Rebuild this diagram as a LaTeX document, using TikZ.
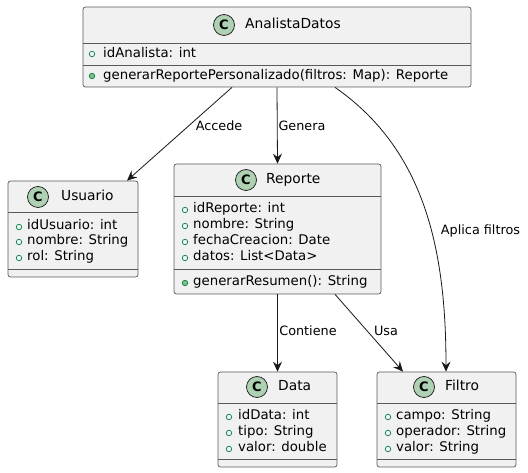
\documentclass[tikz,border=0pt]{standalone}
\usepackage{fontspec}
\setmainfont{DejaVu Sans}
\usetikzlibrary{arrows.meta}
\definecolor{boxfill}{HTML}{F1F1F1}
\definecolor{boxline}{HTML}{5A5A5A}
\definecolor{linecol}{HTML}{181818}
\definecolor{cfill}{HTML}{ADD1B2}
\definecolor{visline}{HTML}{038048}
\definecolor{visfill}{HTML}{84BE84}
\tikzset{
  classbox/.style={draw=boxline, fill=boxfill, rounded corners=2.5pt, line width=0.7pt, inner sep=0pt},
  sepline/.style={draw=boxline, line width=0.7pt},
  cmark/.style={circle, draw=linecol, fill=cfill, line width=0.7pt, minimum size=21pt, inner sep=0pt, font=\fontsize{13}{13}\selectfont\bfseries},
  cname/.style={anchor=west, inner sep=0pt, text height=10pt, text depth=3pt, font=\fontsize{13.8}{16}\selectfont},
  member/.style={anchor=west, inner sep=0pt, text height=10pt, text depth=3pt, font=\fontsize{13.3}{16}\selectfont},
  attrmark/.style={circle, draw=visline, line width=0.7pt, minimum size=5.5pt, inner sep=0pt},
  methmark/.style={circle, draw=visline, fill=visfill, line width=0.7pt, minimum size=5.5pt, inner sep=0pt},
  rel/.style={draw=linecol, line width=0.8pt, -{Stealth[length=10pt,width=9pt,inset=3.5pt]}},
  lbl/.style={inner sep=0pt, text height=9.5pt, text depth=3pt, font=\fontsize{12.8}{15}\selectfont},
}
\begin{document}
\begin{tikzpicture}[x=1pt,y=-1pt]
\useasboundingbox (0,0) rectangle (528,473);

% ---------- AnalistaDatos
\node[classbox, minimum width=388pt, minimum height=80pt] (analista) at (277,47) {};
\draw[sepline] (83,43) -- (471,43);
\draw[sepline] (83,65) -- (471,65);
\node[cmark] (analistaC) at (224,25) {C};
\node[cname] (analistaN) at (245,25) {AnalistaDatos};
\node[attrmark] (am1) at (92,54) {};
\node[member] (a1) at (103,54) {idAnalista: int};
\node[methmark] (am2) at (92,76) {};
\node[member] (a2) at (103,76) {generarReportePersonalizado(filtros: Map): Reporte};

% ---------- Usuario
\node[classbox, minimum width=130pt, minimum height=96pt] (usuario) at (73,229) {};
\draw[sepline] (8,212) -- (138,212);
\draw[sepline] (8,269) -- (138,269);
\node[cmark] (usuarioC) at (38,197) {C};
\node[cname] (usuarioN) at (61,197) {Usuario};
\node[attrmark] (um1) at (19,227) {};
\node[member] (u1) at (27,226) {idUsuario: int};
\node[attrmark] (um2) at (19,242) {};
\node[member] (u2) at (27,241.5) {nombre: String};
\node[attrmark] (um3) at (19,258) {};
\node[member] (u3) at (27,257) {rol: String};

% ---------- Reporte
\node[classbox, minimum width=207pt, minimum height=130pt] (reporte) at (277.5,229) {};
\draw[sepline] (174,196) -- (381,196);
\draw[sepline] (174,269) -- (381,269);
\node[cmark] (reporteC) at (246,180) {C};
\node[cname] (reporteN) at (266,180) {Reporte};
\node[attrmark] (rm1) at (185,210) {};
\node[member] (r1) at (193,209) {idReporte: int};
\node[attrmark] (rm2) at (185,226) {};
\node[member] (r2) at (193,225) {nombre: String};
\node[attrmark] (rm3) at (185,242) {};
\node[member] (r3) at (193,241) {fechaCreacion: Date};
\node[attrmark] (rm4) at (185,258) {};
\node[member] (r4) at (193,257) {datos: List<Data>};
\node[methmark] (rm5) at (185,283) {};
\node[member] (r5) at (193,282) {generarResumen(): String};

% ---------- Data
\node[classbox, minimum width=119pt, minimum height=95pt] (data) at (277.5,419.5) {};
\draw[sepline] (218,403) -- (337,403);
\draw[sepline] (218,459) -- (337,459);
\node[cmark] (dataC) at (257,387) {C};
\node[cname] (dataN) at (278,387) {Data};
\node[attrmark] (dm1) at (229,417) {};
\node[member] (d1) at (238,416) {idData: int};
\node[attrmark] (dm2) at (229,433) {};
\node[member] (d2) at (238,432) {tipo: String};
\node[attrmark] (dm3) at (229,449) {};
\node[member] (d3) at (238,448) {valor: double};

% ---------- Filtro
\node[classbox, minimum width=139pt, minimum height=95pt] (filtro) at (446.5,419.5) {};
\draw[sepline] (377,403) -- (516,403);
\draw[sepline] (377,459) -- (516,459);
\node[cmark] (filtroC) at (424,387) {C};
\node[cname] (filtroN) at (445,387) {Filtro};
\node[attrmark] (fm1) at (388,417) {};
\node[member] (f1) at (396,416) {campo: String};
\node[attrmark] (fm2) at (388,433) {};
\node[member] (f2) at (396,432) {operador: String};
\node[attrmark] (fm3) at (388,449) {};
\node[member] (f3) at (396,448) {valor: String};

% ---------- Relations
\draw[rel] ([xshift=-45pt]analista.south) -- ([xshift=54pt]usuario.north);
\node[lbl] (lAccede) at (219,127) {Accede};
\draw[rel] (analista.south) -- (reporte.north);
\node[lbl] (lGenera) at (302,127) {Genera};
\draw[rel] ([xshift=58pt]analista.south) .. controls (425,150) and (446,250) .. ([xshift=-0.5pt]filtro.north);
\node[lbl] (lAplica) at (480.5,231) {Aplica filtros};
\draw[rel] (reporte.south) -- (data.north);
\node[lbl] (lContiene) at (308,332) {Contiene};
\draw[rel] ([xshift=57.5pt]reporte.south) -- ([xshift=-43.5pt]filtro.north);
\node[lbl] (lUsa) at (386,332) {Usa};
\end{tikzpicture}
\end{document}
